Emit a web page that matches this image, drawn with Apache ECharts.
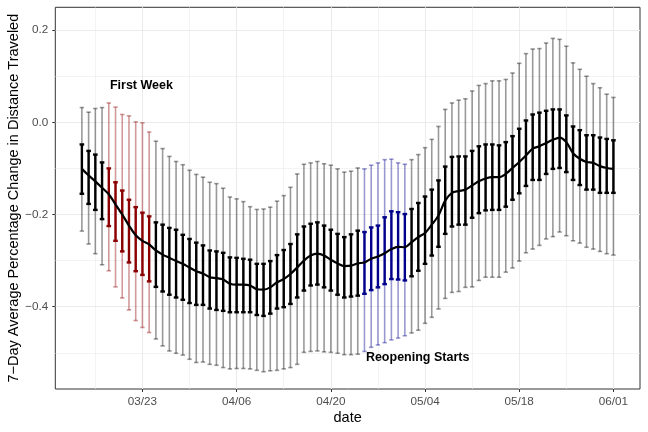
<!DOCTYPE html>
<html>
<head>
<meta charset="utf-8">
<script src="https://cdn.jsdelivr.net/npm/echarts@6/dist/echarts.min.js"></script>
<style>
html, body { margin: 0; padding: 0; background: #fff; }
#chart { width: 648px; height: 432px; }
</style>
</head>
<body>
<div id="chart"></div>
<script>
// one entry per day, 03/14 .. 06/01
var dates = [
  '03/14','03/15','03/16','03/17','03/18','03/19','03/20','03/21','03/22','03/23',
  '03/24','03/25','03/26','03/27','03/28','03/29','03/30','03/31','04/01','04/02',
  '04/03','04/04','04/05','04/06','04/07','04/08','04/09','04/10','04/11','04/12',
  '04/13','04/14','04/15','04/16','04/17','04/18','04/19','04/20','04/21','04/22',
  '04/23','04/24','04/25','04/26','04/27','04/28','04/29','04/30','05/01','05/02',
  '05/03','05/04','05/05','05/06','05/07','05/08','05/09','05/10','05/11','05/12',
  '05/13','05/14','05/15','05/16','05/17','05/18','05/19','05/20','05/21','05/22',
  '05/23','05/24','05/25','05/26','05/27','05/28','05/29','05/30','05/31','06/01'
];

var meanChange = [
  -0.101, -0.115, -0.128, -0.142, -0.156, -0.178, -0.200, -0.224, -0.245, -0.257,
  -0.265, -0.278, -0.287, -0.294, -0.301, -0.307, -0.315, -0.323, -0.328, -0.336,
  -0.338, -0.341, -0.350, -0.352, -0.352, -0.354, -0.362, -0.363, -0.358, -0.347,
  -0.340, -0.329, -0.315, -0.300, -0.289, -0.285, -0.289, -0.298, -0.306, -0.312,
  -0.311, -0.306, -0.304, -0.296, -0.291, -0.284, -0.275, -0.270, -0.271, -0.260,
  -0.249, -0.240, -0.222, -0.202, -0.170, -0.153, -0.149, -0.146, -0.137, -0.128,
  -0.122, -0.119, -0.119, -0.112, -0.099, -0.086, -0.072, -0.057, -0.052, -0.045,
  -0.038, -0.033, -0.043, -0.067, -0.079, -0.086, -0.088, -0.095, -0.099, -0.101
];

var innerHigh = [
  -0.048, -0.062, -0.070, -0.087, -0.100, -0.130, -0.148, -0.168, -0.184, -0.196,
  -0.204, -0.217, -0.222, -0.229, -0.233, -0.244, -0.253, -0.261, -0.267, -0.278,
  -0.280, -0.283, -0.293, -0.294, -0.296, -0.298, -0.307, -0.307, -0.301, -0.288,
  -0.277, -0.264, -0.243, -0.226, -0.220, -0.217, -0.224, -0.233, -0.242, -0.249,
  -0.243, -0.235, -0.238, -0.228, -0.224, -0.206, -0.193, -0.195, -0.199, -0.188,
  -0.175, -0.161, -0.146, -0.126, -0.096, -0.075, -0.074, -0.074, -0.062, -0.052,
  -0.048, -0.048, -0.050, -0.043, -0.030, -0.014,  0.004,  0.017,  0.021,  0.025,
   0.028,  0.028,  0.015, -0.009, -0.017, -0.028, -0.028, -0.033, -0.036, -0.039
];

var innerLow = [
  -0.155, -0.177, -0.190, -0.210, -0.225, -0.257, -0.280, -0.304, -0.323, -0.331,
  -0.345, -0.357, -0.367, -0.374, -0.380, -0.385, -0.392, -0.396, -0.396, -0.404,
  -0.407, -0.409, -0.412, -0.412, -0.412, -0.412, -0.418, -0.420, -0.415, -0.404,
  -0.401, -0.394, -0.380, -0.365, -0.354, -0.352, -0.358, -0.365, -0.374, -0.380,
  -0.378, -0.376, -0.372, -0.364, -0.358, -0.351, -0.340, -0.341, -0.343, -0.334,
  -0.322, -0.307, -0.289, -0.270, -0.242, -0.226, -0.222, -0.222, -0.207, -0.197,
  -0.191, -0.190, -0.190, -0.183, -0.168, -0.154, -0.138, -0.125, -0.125, -0.112,
  -0.101, -0.099, -0.108, -0.125, -0.136, -0.146, -0.146, -0.153, -0.153, -0.153
];

var outerHigh = [
   0.032,  0.022,  0.030,  0.032,  0.042,  0.033,  0.017,  0.014,  0.001, -0.001,
  -0.021, -0.041, -0.057, -0.074, -0.085, -0.092, -0.104, -0.113, -0.119, -0.130,
  -0.133, -0.143, -0.162, -0.166, -0.172, -0.183, -0.189, -0.188, -0.184, -0.171,
  -0.159, -0.141, -0.112, -0.091, -0.088, -0.085, -0.090, -0.093, -0.101, -0.108,
  -0.106, -0.099, -0.101, -0.093, -0.088, -0.081, -0.080, -0.088, -0.091, -0.081,
  -0.070, -0.055, -0.037, -0.009,  0.028,  0.042,  0.048,  0.051,  0.068,  0.080,
   0.084,  0.090,  0.090,  0.093,  0.107,  0.128,  0.149,  0.159,  0.160,  0.172,
   0.182,  0.180,  0.165,  0.129,  0.115,  0.100,  0.084,  0.075,  0.061,  0.054
];

var outerLow = [
  -0.236, -0.264, -0.285, -0.309, -0.322, -0.357, -0.381, -0.407, -0.430, -0.445,
  -0.456, -0.470, -0.485, -0.496, -0.501, -0.505, -0.514, -0.521, -0.520, -0.525,
  -0.527, -0.532, -0.535, -0.534, -0.534, -0.535, -0.538, -0.541, -0.539, -0.538,
  -0.535, -0.532, -0.525, -0.499, -0.497, -0.496, -0.498, -0.499, -0.501, -0.504,
  -0.504, -0.503, -0.497, -0.488, -0.483, -0.478, -0.472, -0.468, -0.463, -0.457,
  -0.451, -0.436, -0.423, -0.405, -0.382, -0.369, -0.367, -0.358, -0.357, -0.343,
  -0.336, -0.336, -0.336, -0.325, -0.316, -0.301, -0.283, -0.275, -0.267, -0.253,
  -0.248, -0.238, -0.246, -0.257, -0.262, -0.271, -0.275, -0.280, -0.285, -0.288
];

var firstWeek = ['03/18','03/19','03/20','03/21','03/22','03/23','03/24'];
var reopening = ['04/25','04/26','04/27','04/28','04/29','04/30','05/01'];

var xTickLabels = ['03/23','04/06','04/20','05/04','05/18','06/01'];
var xMinorLabels = ['03/16','03/30','04/13','04/27','05/11','05/25'];
var yTicks = [-0.4, -0.2, 0.0, 0.2];
var yTickLabels = ['\u22120.4', '\u22120.2', '0.0', '0.2'];
var yMinor = [-0.5, -0.3, -0.1, 0.1];

// x is counted in days, 03/14 being day 5
var firstDay = 5;
function dayOf(d) { return dates.indexOf(d) + firstDay; }

function periodOf(d) {
  if (firstWeek.indexOf(d) >= 0) return 'first';
  if (reopening.indexOf(d) >= 0) return 'reopen';
  return 'base';
}

var outerColors = { base: 'rgba(0,0,0,0.4)', first: 'rgba(139,0,0,0.4)', reopen: 'rgba(0,0,139,0.4)' };
var innerColors = { base: '#000000', first: '#8B0000', reopen: '#00008B' };

var xTickDays = xTickLabels.map(dayOf);
var xMinorDays = xMinorLabels.map(dayOf);

function errorBars(colors, width, capHalf) {
  return function (params, api) {
    var x = api.value(0);
    var lo = api.coord([x, api.value(1)]);
    var hi = api.coord([x, api.value(2)]);
    var style = { stroke: colors[periodOf(dates[params.dataIndex])], lineWidth: width };
    return {
      type: 'group',
      children: [
        { type: 'line', shape: { x1: hi[0], y1: hi[1], x2: lo[0], y2: lo[1] }, style: style },
        { type: 'line', shape: { x1: hi[0] - capHalf, y1: hi[1], x2: hi[0] + capHalf, y2: hi[1] }, style: style },
        { type: 'line', shape: { x1: lo[0] - capHalf, y1: lo[1], x2: lo[0] + capHalf, y2: lo[1] }, style: style }
      ]
    };
  };
}

var outerData = dates.map(function (d, i) { return [dayOf(d), outerLow[i], outerHigh[i]]; });
var innerData = dates.map(function (d, i) { return [dayOf(d), innerLow[i], innerHigh[i]]; });
var lineData = dates.map(function (d, i) { return [dayOf(d), meanChange[i]]; });

var font = 'Liberation Sans, Arial, Helvetica, sans-serif';
var gridColor = '#EBEBEB';

var chart = echarts.init(document.getElementById('chart'));
chart.setOption({
  animation: false,
  backgroundColor: '#fff',
  grid: {
    left: 55.3, right: 8, top: 7.3, bottom: 43,
    containLabel: false, outerBoundsMode: 'none',
    show: true, borderColor: '#333333', borderWidth: 1, backgroundColor: 'transparent'
  },
  xAxis: [{
    type: 'value', min: 1.05, max: 87.95, position: 'bottom',
    name: 'date', nameLocation: 'middle', nameGap: 21.5, nameMoveOverlap: false,
    nameTextStyle: { fontFamily: font, fontSize: 14.5, color: '#000' },
    axisLine: { show: false, onZero: false },
    axisTick: { show: true, length: 3, customValues: xTickDays, lineStyle: { color: '#333333', width: 1 } },
    axisLabel: {
      show: true, customValues: xTickDays, margin: 6.5,
      fontFamily: font, fontSize: 11.7, color: '#4D4D4D',
      formatter: function (v) { return xTickLabels[xTickDays.indexOf(Math.round(v))]; }
    },
    splitLine: { show: true, lineStyle: { color: gridColor, width: 1.1 } }
  }, {
    type: 'value', min: 1.05, max: 87.95, position: 'bottom',
    axisLine: { show: false, onZero: false },
    axisTick: { show: false, customValues: xMinorDays },
    axisLabel: { show: false, customValues: xMinorDays },
    splitLine: { show: true, lineStyle: { color: gridColor, width: 0.6 } }
  }],
  yAxis: [{
    type: 'value', min: -0.5785, max: 0.2495, position: 'left',
    name: '7\u2212Day Average Percentage Change in Distance Traveled',
    nameLocation: 'middle', nameGap: 34, nameRotate: 90, nameMoveOverlap: false,
    nameTextStyle: { fontFamily: font, fontSize: 14.5, color: '#000' },
    axisLine: { show: false, onZero: false },
    axisTick: { show: true, length: 3, customValues: yTicks, lineStyle: { color: '#333333', width: 1 } },
    axisLabel: {
      show: true, customValues: yTicks, margin: 7,
      fontFamily: font, fontSize: 11.7, color: '#4D4D4D',
      formatter: function (v) {
        var k = yTicks.findIndex(function (t) { return Math.abs(t - v) < 1e-6; });
        return yTickLabels[k];
      }
    },
    splitLine: { show: true, lineStyle: { color: gridColor, width: 1.1 } }
  }, {
    type: 'value', min: -0.5785, max: 0.2495, position: 'left',
    axisLine: { show: false, onZero: false },
    axisTick: { show: false, customValues: yMinor },
    axisLabel: { show: false, customValues: yMinor },
    splitLine: { show: true, lineStyle: { color: gridColor, width: 0.6 } }
  }],
  series: [{
    type: 'custom', name: 'outer', z: 2,
    renderItem: errorBars(outerColors, 1.6, 2.2),
    encode: { x: 0, y: [1, 2] },
    data: outerData
  }, {
    type: 'custom', name: 'inner', z: 3,
    renderItem: errorBars(innerColors, 2.4, 2.3),
    encode: { x: 0, y: [1, 2] },
    data: innerData
  }, {
    type: 'line', name: 'mean', z: 4,
    data: lineData, showSymbol: false, smooth: 0.3,
    lineStyle: { color: '#000', width: 2.2 },
    markPoint: {
      symbol: 'circle', symbolSize: 0,
      label: {
        show: true, position: 'inside', formatter: '{b}',
        fontFamily: font, fontWeight: 'bold', fontSize: 12.5, color: '#000'
      },
      data: [
        { name: 'First Week', coord: [13.85, 0.079] },
        { name: 'Reopening Starts', coord: [54.9, -0.511] }
      ]
    }
  }]
});
</script>
</body>
</html>
